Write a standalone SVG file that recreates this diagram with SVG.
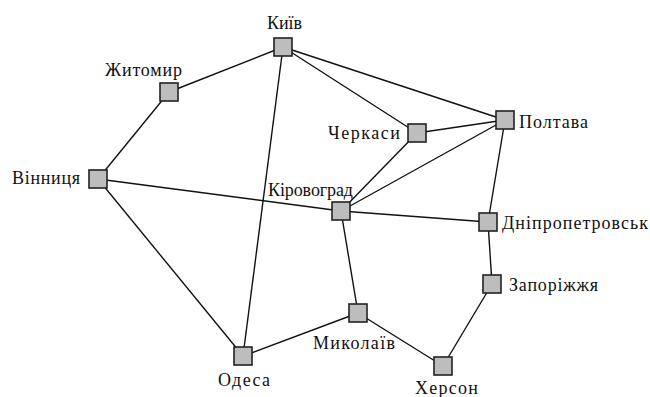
<svg xmlns="http://www.w3.org/2000/svg" width="650" height="397" viewBox="0 0 650 397">
<style>
.e{stroke:#111;stroke-width:1.4;fill:none}
.n{fill:#bdbdbd;stroke:#222;stroke-width:1.6}
</style>
<rect width="650" height="397" fill="#fff"/>
<g id="edges">
<line class="e" x1="283" y1="47" x2="169" y2="92"/>
<line class="e" x1="169" y1="92" x2="98" y2="179"/>
<line class="e" x1="98" y1="179" x2="243" y2="356"/>
<line class="e" x1="98" y1="179" x2="341" y2="211"/>
<line class="e" x1="341" y1="211" x2="488" y2="222"/>
<line class="e" x1="283" y1="47" x2="243" y2="356"/>
<line class="e" x1="283" y1="47" x2="417" y2="133"/>
<line class="e" x1="283" y1="47" x2="505" y2="120"/>
<line class="e" x1="417" y1="133" x2="505" y2="120"/>
<line class="e" x1="417" y1="133" x2="341" y2="211"/>
<line class="e" x1="505" y1="120" x2="341" y2="211"/>
<line class="e" x1="505" y1="120" x2="488" y2="222"/>
<line class="e" x1="488" y1="222" x2="492" y2="284"/>
<line class="e" x1="492" y1="284" x2="443" y2="366"/>
<line class="e" x1="341" y1="211" x2="358" y2="313"/>
<line class="e" x1="358" y1="313" x2="243" y2="356"/>
<line class="e" x1="358" y1="313" x2="443" y2="366"/>
</g>
<g font-family="Liberation Serif, serif" font-size="18" fill="#111">
<g id="kyiv"><rect class="n" x="274" y="38" width="18" height="18"/><text x="267" y="29" textLength="35" lengthAdjust="spacing">Київ</text></g>
<g id="zhytomyr"><rect class="n" x="160" y="83" width="18" height="18"/><text x="105" y="76" textLength="77" lengthAdjust="spacing">Житомир</text></g>
<g id="vinnytsia"><rect class="n" x="89" y="170" width="18" height="18"/><text x="12" y="184" textLength="68" lengthAdjust="spacing">Вінниця</text></g>
<g id="cherkasy"><rect class="n" x="408" y="124" width="18" height="18"/><text x="328" y="139" textLength="72" lengthAdjust="spacing">Черкаси</text></g>
<g id="poltava"><rect class="n" x="496" y="111" width="18" height="18"/><text x="519" y="128" textLength="69" lengthAdjust="spacing">Полтава</text></g>
<g id="kirovohrad"><rect class="n" x="332" y="202" width="18" height="18"/><text x="268" y="196" textLength="85" lengthAdjust="spacing">Кіровоград</text></g>
<g id="dnipropetrovsk"><rect class="n" x="479" y="213" width="18" height="18"/><text x="502" y="229" textLength="146" lengthAdjust="spacing">Дніпропетровськ</text></g>
<g id="zaporizhzhia"><rect class="n" x="483" y="275" width="18" height="18"/><text x="509" y="291" textLength="89" lengthAdjust="spacing">Запоріжжя</text></g>
<g id="mykolaiv"><rect class="n" x="349" y="304" width="18" height="18"/><text x="313" y="349" textLength="82" lengthAdjust="spacing">Миколаїв</text></g>
<g id="odesa"><rect class="n" x="234" y="347" width="18" height="18"/><text x="218" y="386" textLength="52" lengthAdjust="spacing">Одеса</text></g>
<g id="kherson"><rect class="n" x="434" y="357" width="18" height="18"/><text x="415" y="394" textLength="63" lengthAdjust="spacing">Херсон</text></g>
</g>
</svg>
